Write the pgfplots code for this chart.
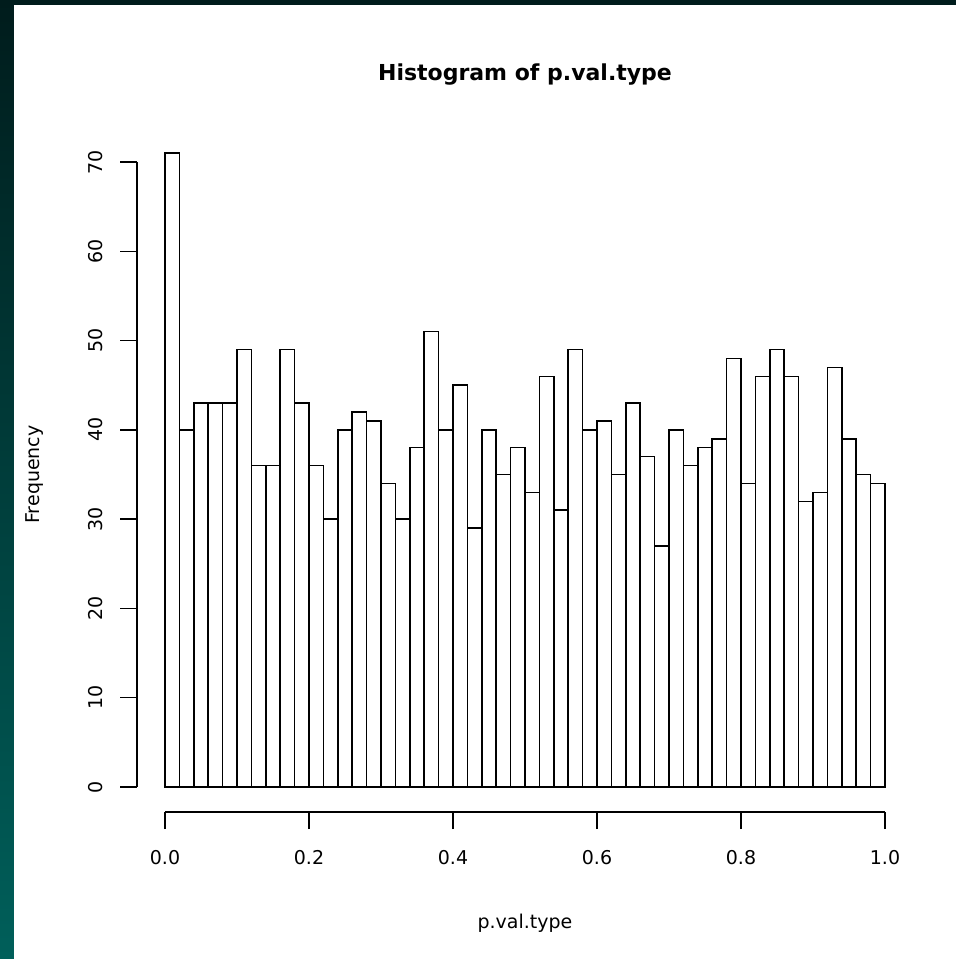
\documentclass[border=0pt]{standalone}
\usepackage{pgfplots}
\pgfplotsset{compat=1.18}
\usepackage{fontspec}
\setmainfont{DejaVu Sans}
\begin{document}
\begin{tikzpicture}[x=1pt,y=1pt]
\path[use as bounding box] (0,0) rectangle (956,959);
\shade[bottom color={rgb,255:red,0;green,95;blue,90}, top color={rgb,255:red,0;green,28;blue,28}] (0,0) rectangle (956,959);
\fill[white] (14,0) rectangle (956,954);
\begin{axis}[
  at={(165pt,172pt)}, anchor=origin,
  scale only axis, width=720pt, height=625pt,
  xmin=0, xmax=1, ymin=0, ymax=70,
  clip=false,
  axis x line*=bottom, axis y line*=left,
  axis x line shift=25pt, axis y line shift=28pt,
  axis line style={-, line width=1.5pt, black},
  every tick/.style={line width=1.5pt, black},
  tick align=outside, major tick length=17pt,
  xtick={0,0.2,0.4,0.6,0.8,1.0},
  xticklabels={0.0,0.2,0.4,0.6,0.8,1.0},
  ytick={0,10,20,30,40,50,60,70},
  /pgf/number format/assume math mode=true,
  tick label style={font=\fontsize{19}{22}\selectfont},
  xticklabel shift=18pt, yticklabel shift=14pt,
  yticklabel style={rotate=90, anchor=south},
  xlabel={p.val.type}, ylabel={Frequency},
  label style={font=\fontsize{19}{22}\selectfont},
  xlabel style={at={(axis description cs:0.5,-0.2176)}, anchor=center},
  ylabel style={at={(axis description cs:-0.1806,0.5)}, anchor=center},
  title={\bfseries Histogram of p.val.type},
  title style={at={(axis description cs:0.5,1.1296)}, anchor=center, font=\fontsize{22}{26}\selectfont},
]
\addplot[ybar interval, fill=white, draw=black, line width=1.5pt] coordinates {
(0.00,71) (0.02,40) (0.04,43) (0.06,43) (0.08,43) (0.10,49) (0.12,36) (0.14,36) (0.16,49) (0.18,43)
(0.20,36) (0.22,30) (0.24,40) (0.26,42) (0.28,41) (0.30,34) (0.32,30) (0.34,38) (0.36,51) (0.38,40)
(0.40,45) (0.42,29) (0.44,40) (0.46,35) (0.48,38) (0.50,33) (0.52,46) (0.54,31) (0.56,49) (0.58,40)
(0.60,41) (0.62,35) (0.64,43) (0.66,37) (0.68,27) (0.70,40) (0.72,36) (0.74,38) (0.76,39) (0.78,48)
(0.80,34) (0.82,46) (0.84,49) (0.86,46) (0.88,32) (0.90,33) (0.92,47) (0.94,39) (0.96,35) (0.98,34)
(1.00,34)
};
\end{axis}
\end{tikzpicture}
\end{document}
